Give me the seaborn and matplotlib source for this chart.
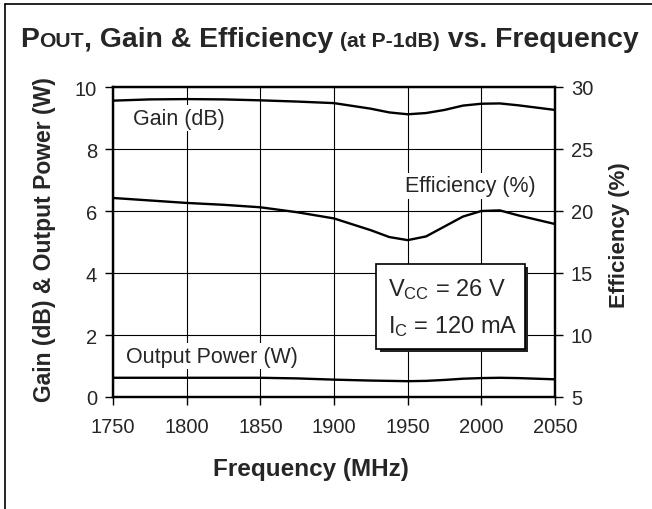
import matplotlib
matplotlib.use("Agg")
import matplotlib.pyplot as plt
import matplotlib.patches as mpatches
import matplotlib.lines as mlines
import pandas as pd
import seaborn as sns

# data (denser around the 1950 MHz dip)
freq_mhz = [1750, 1775, 1800, 1825, 1850, 1875, 1900, 1925, 1937.5, 1950, 1962.5,
            1975, 1987.5, 2000, 2012.5, 2025, 2050]
gain_db = [9.56, 9.60, 9.61, 9.60, 9.57, 9.53, 9.48, 9.30, 9.18, 9.12, 9.16,
           9.26, 9.40, 9.46, 9.47, 9.41, 9.26]
efficiency_pct = [21.05, 20.85, 20.65, 20.50, 20.30, 19.90, 19.40, 18.45, 17.90, 17.65, 17.95,
                  18.75, 19.55, 20.00, 20.05, 19.65, 18.95]
output_power_w = [0.62, 0.62, 0.62, 0.62, 0.62, 0.60, 0.56, 0.53, 0.52, 0.51, 0.52,
                  0.55, 0.59, 0.61, 0.62, 0.61, 0.57]

x_ticks = [1750, 1800, 1850, 1900, 1950, 2000, 2050]
left_ticks = [0, 2, 4, 6, 8, 10]
right_ticks = [5, 10, 15, 20, 25, 30]

df = pd.DataFrame({"freq": freq_mhz, "gain": gain_db, "eff": efficiency_pct, "pout": output_power_w})

sns.set_style("white")
plt.rcParams["font.family"] = ["Liberation Sans", "DejaVu Sans"]
plt.rcParams["mathtext.fontset"] = "custom"
plt.rcParams["mathtext.rm"] = "Liberation Sans"
plt.rcParams["mathtext.it"] = "Liberation Sans:italic"
plt.rcParams["mathtext.bf"] = "Liberation Sans:bold"

W, H = 652, 510
fig = plt.figure(figsize=(W / 100, H / 100), dpi=100)
ax = fig.add_axes([113 / W, 1 - 398 / H, (555 - 113) / W, (398 - 88) / H])
ax2 = ax.twinx()

line_kw = dict(color="black", lw=1.7)
sns.lineplot(data=df, x="freq", y="gain", ax=ax, **line_kw)
sns.lineplot(data=df, x="freq", y="pout", ax=ax, **line_kw)
sns.lineplot(data=df, x="freq", y="eff", ax=ax2, **line_kw)

ax.set_xlim(1750, 2050)
ax.set_ylim(0, 10)
ax2.set_ylim(5, 30)
ax.set_xticks(x_ticks)
ax.set_yticks(left_ticks)
ax2.set_yticks(right_ticks)
ax.set_xlabel("")
ax.set_ylabel("")
ax2.set_ylabel("")

ax.grid(True, color="black", lw=0.8)
ax.set_axisbelow(True)
for a in (ax, ax2):
    for s in a.spines.values():
        s.set_linewidth(1.6)
        s.set_color("black")
ax.tick_params(axis="both", direction="out", length=6, width=1, color="black",
               labelsize=14.5, left=True, bottom=True)
ax.tick_params(axis="y", pad=5.5)
ax.tick_params(axis="x", pad=8.5)
ax2.tick_params(axis="y", direction="out", length=6, width=1, color="black",
                labelsize=14.5, right=True, pad=5.5)

# curve labels
lbl_box = dict(facecolor="white", edgecolor="none", pad=1.5)
ax.text(1763.5, 9.0, "Gain (dB)", fontsize=15.5, ha="left", va="center", bbox=lbl_box, zorder=5)
ax.text(1948, 6.81, "Efficiency (%)", fontsize=15.5, ha="left", va="center", bbox=lbl_box, zorder=5)
ax.text(1759, 1.32, "Output Power (W)", fontsize=15.5, ha="left", va="center", bbox=lbl_box, zorder=5)

# condition box with drop shadow
bx0, by0, bw, bh = 0.595, 0.155, 0.337, 0.274
sh = mpatches.Rectangle((bx0 + 0.008, by0 - 0.011), bw, bh, transform=ax.transAxes,
                        facecolor="#222222", edgecolor="none", zorder=6)
bx = mpatches.Rectangle((bx0, by0), bw, bh, transform=ax.transAxes,
                        facecolor="white", edgecolor="black", lw=1.2, zorder=7)
ax.add_patch(sh)
ax.add_patch(bx)
ax.text(bx0 + 0.028, by0 + bh * 0.71, r"V$_\mathregular{CC}$ = 26 V", transform=ax.transAxes,
        fontsize=17, ha="left", va="center", zorder=8)
ax.text(bx0 + 0.028, by0 + bh * 0.28, r"I$_\mathregular{C}$ = 120 mA", transform=ax.transAxes,
        fontsize=17, ha="left", va="center", zorder=8)

# axis titles
fig.text(45 / W, 1 - 240 / H, "Gain (dB) & Output Power (W)", rotation=90, fontsize=16.5,
         fontweight="bold", ha="center", va="center")
fig.text(619 / W, 1 - 235 / H, "Efficiency (%)", rotation=90, fontsize=16,
         fontweight="bold", ha="center", va="center")
fig.text(311 / W, 1 - 470 / H, "Frequency (MHz)", fontsize=17.5,
         fontweight="bold", ha="center", va="center")

# title built from pieces with mixed sizes
pieces = [("P", 20.4), ("OUT", 15.2), (", Gain & Efficiency ", 20.4), ("(at P-1dB)", 15.2),
          (" vs. Frequency", 20.4)]
fig.canvas.draw()
renderer = fig.canvas.get_renderer()
x_px = 20
base_y = 1 - 47 / H
for txt, size in pieces:
    t = fig.text(x_px / W, base_y, txt, fontsize=size, fontweight="bold", ha="left", va="baseline")
    bb = t.get_window_extent(renderer=renderer)
    x_px += bb.width

# partial outer frame (left and top edges)
fig.add_artist(mlines.Line2D([5 / W, 5 / W], [0, 1 - 5 / H], color="black", lw=1.2,
                             transform=fig.transFigure))
fig.add_artist(mlines.Line2D([5 / W, 1], [1 - 5 / H, 1 - 5 / H], color="black", lw=1.2,
                             transform=fig.transFigure))

fig.savefig("out.png", dpi=100)
